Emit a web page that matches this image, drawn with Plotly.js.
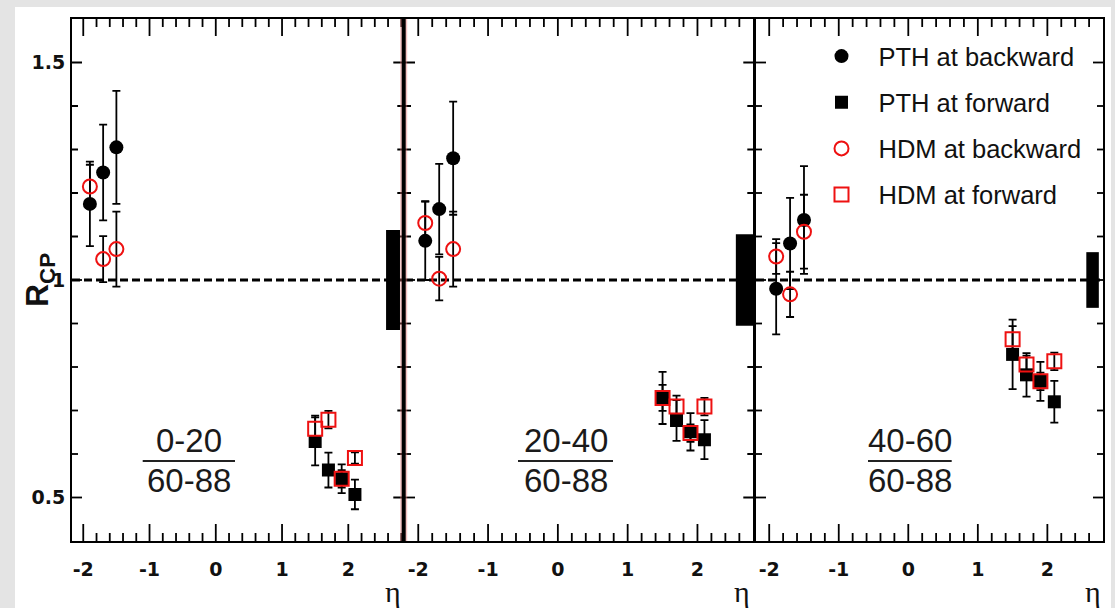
<!DOCTYPE html>
<html><head><meta charset="utf-8">
<script src="https://cdn.plot.ly/plotly-3.0.1.min.js"></script>
<style>html,body{margin:0;padding:0;background:#e4e4e4;} #chart{width:1115px;height:608px;}</style>
</head><body><div id="chart"></div>
<script>
// ---- data ----
const etaBackward = [-1.9, -1.7, -1.5];
const etaForward = [1.5, 1.7, 1.9, 2.1];
const centralityNum = ['0-20', '20-40', '40-60'];
const centralityDen = ['60-88', '60-88', '60-88'];
const legendNames = ['PTH at backward', 'PTH at forward', 'HDM at backward', 'HDM at forward'];
const pthBack    = [[1.175, 1.247, 1.305], [1.090, 1.163, 1.280], [0.980, 1.084, 1.138]];
const pthBackErr = [[0.097, 0.110, 0.130], [0.090, 0.104, 0.130], [0.105, 0.105, 0.124]];
const pthFwd     = [[0.629, 0.563, 0.543, 0.507], [0.729, 0.677, 0.651, 0.633], [0.829, 0.782, 0.767, 0.720]];
const pthFwdErr  = [[0.055, 0.040, 0.033, 0.034], [0.060, 0.047, 0.043, 0.045], [0.080, 0.050, 0.045, 0.048]];
const hdmBack    = [[1.215, 1.048, 1.071], [1.131, 1.003, 1.071], [1.054, 0.967, 1.111]];
const hdmBackErr = [[0.050, 0.053, 0.086], [0.050, 0.050, 0.086], [0.040, 0.052, 0.085]];
const hdmFwd     = [[0.658, 0.679, 0.543, 0.591], [0.729, 0.709, 0.648, 0.709], [0.864, 0.806, 0.767, 0.813]];
const hdmFwdErr  = [[0.030, 0.020, 0.020, 0.013], [0.030, 0.025, 0.020, 0.020], [0.030, 0.020, 0.020, 0.020]];
const normUnc = [0.115, 0.105, 0.064];   // normalisation uncertainty (box half-height)
const xTickVals = [-2, -1, 0, 1, 2];
const xTickText = ['-2', '-1', '0', '1', '2'];
const yTickVals = [0.5, 1, 1.5];
const yTickText = ['0.5', '1', '1.5'];

// ---- layout helpers (pixel -> paper) ----
const L = 72, T = 19, W = 1031, H = 522;
const px = x => (x - L) / W;
const py = y => (T + H - y) / H;

const panelPx = [[72, 403.3], [405, 753.3], [756, 1103]];
const domains = panelPx.map(d => [Math.max(0, px(d[0])), Math.min(1, px(d[1]))]);
const xRanges = [[-2.17, 2.83], [-2.19, 2.80], [-2.19, 2.80]];
const yRange = [0.4, 1.6];
const boxX = [[2.57, 2.78], [2.55, 2.80], [2.56, 2.74]];
const fracPos = [{c: 188.5, l0: 142.7, l1: 235}, {c: 566, l0: 518, l1: 613}, {c: 910, l0: 868, l1: 951.7}];
const etaLabelX = [393, 741.5, 1093];

const RED = '#ee1111';
const errStyle = arr => ({type: 'data', array: arr, visible: true, color: '#000', thickness: 1.8, width: 4});
const tickFont = {family: 'DejaVu Sans', size: 19, weight: 'bold', color: '#111'};

// tick positions along an axis range at a given step (inside the frame only)
function stepsIn(lo, hi, step) {
  const out = [];
  for (let k = Math.ceil(lo / step - 1e-9); k * step <= hi + 1e-9; k++) {
    const v = +(k * step).toFixed(4);
    if (v - lo > 1e-6 && hi - v > 1e-6) out.push(v);
  }
  return out;
}
const isInt = v => Math.abs(v - Math.round(v)) < 1e-6;
const isHalf = v => Math.abs(2 * v - Math.round(2 * v)) < 1e-6;

const traces = [];
for (let p = 0; p < 3; p++) {
  const xa = p === 0 ? 'x' : 'x' + (p + 1);
  const ya = p === 0 ? 'y' : 'y' + (p + 1);
  // frame tick marks (drawn as one segmented line per panel)
  const [xr0, xr1] = xRanges[p];
  const xPerPx = (xr1 - xr0) / (panelPx[p][1] - panelPx[p][0]);
  const yPerPx = (yRange[1] - yRange[0]) / H;
  const tx = [], ty = [];
  stepsIn(xr0, xr1, 0.2).forEach(v => {
    const len = (isInt(v) ? 17 : 8) * yPerPx;
    tx.push(v, v, null, v, v, null);
    ty.push(yRange[0], yRange[0] + len, null, yRange[1], yRange[1] - len, null);
  });
  stepsIn(yRange[0], yRange[1], 0.1).forEach(v => {
    const len = (isHalf(v) ? 10 : 6) * xPerPx;
    tx.push(xr0, xr0 + len, null, xr1, xr1 - len, null);
    ty.push(v, v, null, v, v, null);
  });
  traces.push({type: 'scatter', mode: 'lines', x: tx, y: ty, xaxis: xa, yaxis: ya, showlegend: false,
    hoverinfo: 'skip', connectgaps: false, line: {color: '#000', width: 1.8}});
}
for (let p = 0; p < 3; p++) {
  const xa = p === 0 ? 'x' : 'x' + (p + 1);
  const ya = p === 0 ? 'y' : 'y' + (p + 1);
  const show = p === 2;
  traces.push({type: 'scatter', mode: 'markers', x: etaBackward, y: pthBack[p], error_y: errStyle(pthBackErr[p]),
    xaxis: xa, yaxis: ya, name: legendNames[0], legendgroup: 'g0', showlegend: show,
    marker: {symbol: 'circle', size: 14, color: '#000'}});
  traces.push({type: 'scatter', mode: 'markers', x: etaForward, y: pthFwd[p], error_y: errStyle(pthFwdErr[p]),
    xaxis: xa, yaxis: ya, name: legendNames[1], legendgroup: 'g1', showlegend: show,
    marker: {symbol: 'square', size: 13, color: '#000'}});
  traces.push({type: 'scatter', mode: 'markers', x: etaBackward, y: hdmBack[p], error_y: errStyle(hdmBackErr[p]),
    xaxis: xa, yaxis: ya, name: legendNames[2], legendgroup: 'g2', showlegend: show,
    marker: {symbol: 'circle-open', size: 14, color: RED, line: {width: 2, color: RED}}});
  traces.push({type: 'scatter', mode: 'markers', x: etaForward, y: hdmFwd[p], error_y: errStyle(hdmFwdErr[p]),
    xaxis: xa, yaxis: ya, name: legendNames[3], legendgroup: 'g3', showlegend: show,
    marker: {symbol: 'square-open', size: 14, color: RED, line: {width: 2, color: RED}}});
}

function xAxis(p) {
  return {domain: domains[p], range: xRanges[p], anchor: p === 0 ? 'y' : 'y' + (p + 1),
    tickmode: 'array', tickvals: xTickVals, ticktext: xTickText, ticks: '',
    showline: true, linecolor: '#000', linewidth: 2, mirror: true, showgrid: false, zeroline: false,
    tickfont: tickFont, ticklabelstandoff: 10};
}
function yAxis(p) {
  return {domain: [0, 1], range: yRange, anchor: p === 0 ? 'x' : 'x' + (p + 1),
    tickmode: 'array', tickvals: yTickVals, ticktext: yTickText, ticks: '', showticklabels: p === 0,
    showline: true, linecolor: '#000', linewidth: 2, mirror: true, showgrid: false, zeroline: false,
    tickfont: tickFont, ticklabelstandoff: 1};
}

const shapes = [
  {type: 'rect', xref: 'paper', yref: 'paper', x0: px(15), x1: px(1111), y0: py(640), y1: py(7),
   fillcolor: '#ffffff', line: {width: 0}, layer: 'below'}
];
const annotations = [];
for (let p = 0; p < 3; p++) {
  const xs = p === 0 ? 'x' : 'x' + (p + 1);
  const ys = p === 0 ? 'y' : 'y' + (p + 1);
  shapes.push({type: 'line', xref: xs + ' domain', yref: ys, x0: 0, x1: 1, y0: 1, y1: 1,
    line: {color: '#000', width: 3, dash: '8px,4px'}, layer: 'below'});
  shapes.push({type: 'rect', xref: xs, yref: ys, x0: boxX[p][0], x1: boxX[p][1], y0: 1 - normUnc[p], y1: 1 + normUnc[p],
    fillcolor: '#000', line: {width: 0}, layer: 'above'});
  const f = fracPos[p];
  shapes.push({type: 'line', xref: 'paper', yref: 'paper', x0: px(f.l0), x1: px(f.l1), y0: py(461), y1: py(461),
    line: {color: '#222', width: 2}});
  annotations.push({xref: 'paper', yref: 'paper', x: px(f.c), y: py(441), text: centralityNum[p], showarrow: false,
    xanchor: 'center', yanchor: 'middle', font: {family: 'Liberation Sans', size: 33, color: '#1a1a1a'}});
  annotations.push({xref: 'paper', yref: 'paper', x: px(f.c), y: py(480), text: centralityDen[p], showarrow: false,
    xanchor: 'center', yanchor: 'middle', font: {family: 'Liberation Sans', size: 33, color: '#1a1a1a'}});
  annotations.push({xref: 'paper', yref: 'paper', x: px(etaLabelX[p]), y: py(591), text: 'η', showarrow: false,
    xanchor: 'center', yanchor: 'middle', font: {family: 'Liberation Serif', size: 30, color: '#111'}});
}
shapes.push({type: 'line', xref: 'paper', yref: 'paper', x0: px(403.7), x1: px(403.7), y0: 0, y1: 1,
  line: {color: 'rgba(230,120,120,0.45)', width: 7}});
shapes.push({type: 'line', xref: 'paper', yref: 'paper', x0: px(403.7), x1: px(403.7), y0: 0, y1: 1,
  line: {color: '#000', width: 4}});

annotations.push({xref: 'paper', yref: 'paper', x: px(39), y: py(280), text: 'R<sub>CP</sub>', textangle: -90,
  showarrow: false, xanchor: 'center', yanchor: 'middle', font: {family: 'Liberation Sans', size: 32, weight: 'bold', color: '#111'}});

const layout = {
  width: 1115, height: 608,
  margin: {l: L, r: 1115 - L - W, t: T, b: 608 - T - H, pad: 0},
  paper_bgcolor: '#e4e4e4', plot_bgcolor: '#ffffff',
  showlegend: true,
  legend: {x: px(804.5), y: py(33), xanchor: 'left', yanchor: 'top', bgcolor: 'rgba(0,0,0,0)', borderwidth: 0,
    font: {family: 'Liberation Sans', size: 25.5, color: '#111'}, itemwidth: 64, tracegroupgap: 10,
    traceorder: 'grouped', itemclick: false, itemdoubleclick: false},
  xaxis: xAxis(0), xaxis2: xAxis(1), xaxis3: xAxis(2),
  yaxis: yAxis(0), yaxis2: yAxis(1), yaxis3: yAxis(2),
  shapes: shapes, annotations: annotations
};
Plotly.newPlot('chart', traces, layout, {displayModeBar: false});
</script></body></html>
